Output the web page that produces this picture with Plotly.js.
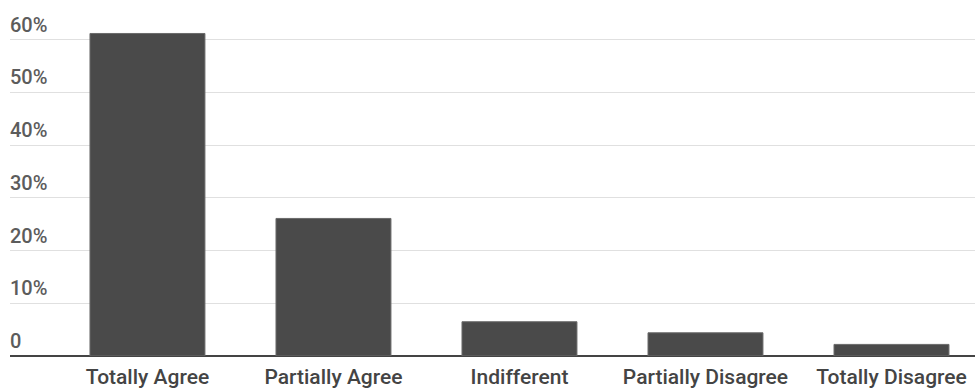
<!DOCTYPE html>
<html>
<head>
<meta charset="utf-8">
<script src="https://cdn.plot.ly/plotly-3.0.1.min.js"></script>
<style>
  html, body { margin: 0; padding: 0; background: #fff; }
  #chart { width: 975px; height: 388px; }
</style>
</head>
<body>
<div id="chart"></div>
<script>
// Survey responses, share of respondents (%)
const categories = ['Totally Agree', 'Partially Agree', 'Indifferent', 'Partially Disagree', 'Totally Disagree'];
const shares = [61.2, 26.1, 6.5, 4.4, 2.2];

// Value axis ticks
const yTickVals = [0, 10, 20, 30, 40, 50, 60];
const yTickText = ['0', '10%', '20%', '30%', '40%', '50%', '60%'];

const trace = {
  type: 'bar',
  x: categories,
  y: shares,
  marker: { color: '#4a4a4a', line: { color: '#6a6a6a', width: 1 } },
  hoverinfo: 'x+y'
};

const layout = {
  width: 975,
  height: 388,
  margin: { l: 10, r: 0, t: 0, b: 32 },
  paper_bgcolor: '#ffffff',
  plot_bgcolor: '#ffffff',
  showlegend: false,
  bargap: 0.382,
  font: { family: 'Roboto, sans-serif', size: 18, color: '#444444' },
  xaxis: {
    type: 'category',
    range: [-0.739, 4.449],
    showgrid: false,
    showline: false,
    ticks: '',
    tickfont: { family: 'Roboto, sans-serif', size: 21, color: '#444444', weight: 500 },
    ticklabelstandoff: 6
  },
  yaxis: {
    range: [0, 67.55],
    tickvals: yTickVals,
    ticktext: yTickText,
    ticklabelposition: 'inside top',
    ticklabelstandoff: -3,
    ticklabelshift: -1,
    tickfont: { family: 'Roboto, sans-serif', size: 20, color: '#5c5c5c', weight: 500 },
    showgrid: true,
    gridcolor: '#e0e0e0',
    gridwidth: 1,
    zeroline: true,
    zerolinecolor: '#444444',
    zerolinewidth: 2,
    showline: false,
    ticks: ''
  }
};

Plotly.newPlot('chart', [trace], layout, { displayModeBar: false, staticPlot: true });
</script>
</body>
</html>
